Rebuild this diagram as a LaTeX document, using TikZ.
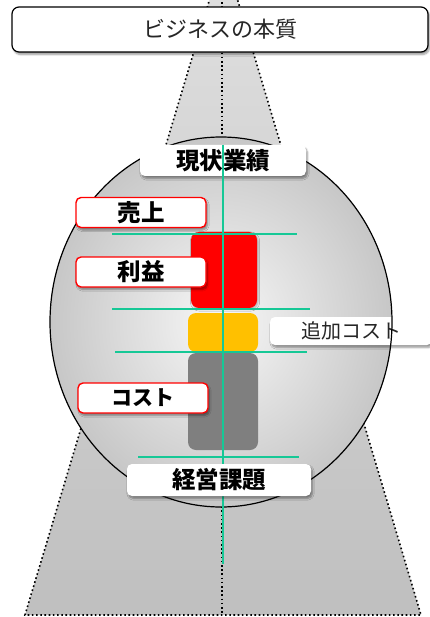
\documentclass[tikz,border=0pt]{standalone}
\usepackage{fontspec}
\newfontfamily\jp{Noto Sans CJK JP}
\usetikzlibrary{shadows,shadows.blur}
\definecolor{gline}{RGB}{22,200,150}
\definecolor{bred}{RGB}{255,0,0}
\definecolor{borange}{RGB}{255,192,0}
\definecolor{bgray}{RGB}{127,127,127}
\tikzset{
  dotline/.style={line width=1.6pt, dash pattern=on 1.6pt off 2.6pt},
  shadowed/.style={blur shadow={shadow xshift=1.5pt, shadow yshift=-2.5pt, shadow opacity=40, shadow blur steps=6, shadow blur extra rounding=2pt}},
  labelbox/.style={shadowed, fill=white, rounded corners=5pt, inner sep=0pt, font=\jp\bfseries\fontsize{23.5}{23.5}\selectfont},
  redbox/.style={labelbox, draw=bred, line width=1.4pt, minimum width=130pt, minimum height=30pt},
  thinbox/.style={shadowed, fill=white, rounded corners=5pt, inner sep=0pt, text=black!85},
  bar/.style={rounded corners=8pt},
  glineS/.style={draw=gline, line width=1.4pt}
}
\begin{document}
\begin{tikzpicture}[x=1pt,y=-1pt]
\useasboundingbox (0,0) rectangle (429,617);
% beam / cone
\path[top color=black!13, bottom color=black!25] (210,-2) -- (237,-2) -- (421,615) -- (25,615) -- cycle;
\draw[dotline] (210,-2) -- (25,615) -- (421,615) -- (237,-2);
\draw[dotline] (222,-2) -- (222,613);
% globe
\fill[inner color=black!3, outer color=black!22] (221,322) ellipse [x radius=171, y radius=185];
% side label behind outline
\node[thinbox, minimum width=162pt, minimum height=28pt, font=\jp\fontsize{20}{20}\selectfont] (tsuika) at (351,331) {追加コスト};
\draw[line width=1.2pt] (221,322) ellipse [x radius=171, y radius=185];
% bars
\node[bar, fill=bred, minimum width=66pt, minimum height=76pt, inner sep=0pt,
      blur shadow={shadow xshift=1pt, shadow yshift=-1.5pt, shadow opacity=25}] (profit) at (224,270) {};
\node[bar, fill=borange, minimum width=70pt, minimum height=39pt, inner sep=0pt] (extra) at (223,332.5) {};
\node[bar, fill=bgray, minimum width=70pt, minimum height=97pt, inner sep=0pt] (cost) at (223,401.5) {};
% red label boxes
\node[redbox] (uriage) at (141,212.5) {売上};
\node[redbox] (rieki) at (141,272) {利益};
\node[redbox, font=\jp\bfseries\fontsize{21}{21}\selectfont] (costl) at (143,398) {コスト};
% top box
\node[shadowed, draw=black, line width=1.2pt, fill=white, rounded corners=7pt, minimum width=416pt, minimum height=45pt, inner sep=0pt, text=black!85, font=\jp\fontsize{22}{22}\selectfont] (title) at (220,29.5) {ビジネスの本質};
% current results box
\node[labelbox, minimum width=166pt, minimum height=31pt] (genjo) at (223,160.5) {現状業績};
% green guide lines
\coordinate (h1a) at (112,234); \coordinate (h1b) at (297,234);
\coordinate (h2a) at (112,309); \coordinate (h2b) at (310,309);
\coordinate (h3a) at (115,352); \coordinate (h3b) at (307,352);
\coordinate (h4a) at (138,457); \coordinate (h4b) at (299,457);
\coordinate (vtop) at (223,145); \coordinate (vbot) at (223,564);
\draw[glineS] (h1a) -- (h1b);
\draw[glineS] (h2a) -- (h2b);
\draw[glineS] (h3a) -- (h3b);
\draw[glineS] (h4a) -- (h4b);
\draw[glineS] (vtop) -- (vbot);
% issues box
\node[labelbox, minimum width=184pt, minimum height=32pt] (keiei) at (219,480) {経営課題};
\end{tikzpicture}
\end{document}
